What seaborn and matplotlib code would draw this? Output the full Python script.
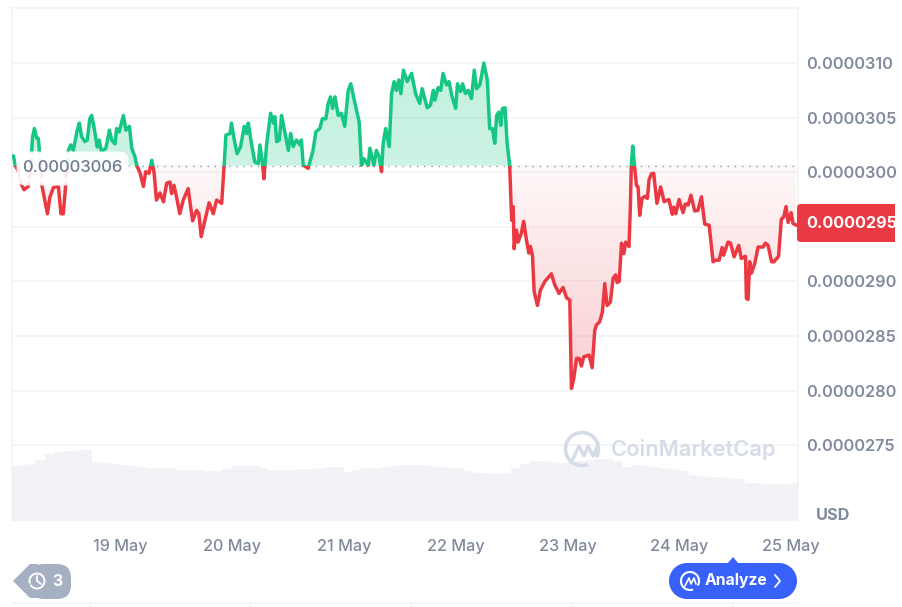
import numpy as np
import seaborn as sns
import matplotlib
matplotlib.use("Agg")
import matplotlib.pyplot as plt
from matplotlib.colors import LinearSegmentedColormap, to_rgba
from matplotlib.patches import Arc, Circle, FancyBboxPatch, Polygon, Rectangle

# ------------------------------
# DATA
# ------------------------------
# hours since the left edge of the chart
hours = [
    0.3, 0.7, 1.4, 2.1, 2.6, 3.5, 4.0, 4.2, 4.4, 4.8, 5.3, 5.65, 6.0, 6.4, 6.9, 7.6, 8.15, 8.9, 9.95, 10.5,
    11.0, 11.5, 12.1, 12.6, 13.15, 14.0, 14.45, 14.95, 15.65, 16.15, 16.7, 17.1, 17.65, 18.3, 18.7, 19.2,
    20.15, 20.9, 21.4, 22.1, 22.45, 23.0, 23.9, 24.45, 25.2, 25.7, 26.4, 26.75, 27.5, 28.2, 28.7, 29.4,
    30.0, 30.5, 31.0, 31.75, 32.5, 33.2, 33.9, 34.25, 34.75, 35.3, 36.0, 36.75, 37.8, 38.75, 39.6, 40.1,
    40.6, 41.4, 42.3, 43.2, 43.9, 45.0, 45.5, 45.9, 46.8, 47.1, 47.7, 48.3, 49.05, 49.85, 50.35, 50.7,
    51.4, 52.1, 52.85, 53.2, 53.8, 54.05, 54.65, 55.5, 56.1, 56.4, 56.8, 57.35, 57.85, 58.6, 59.3, 59.8,
    60.35, 61.05, 61.8, 62.1, 62.5, 63.55, 64.6, 65.2, 66.05, 66.6, 67.35, 67.85, 68.35, 68.8, 69.3, 70.0,
    70.7, 71.4, 72.15, 72.7, 73.6, 74.5, 75.0, 75.5, 76.45, 76.8, 77.65, 78.2, 78.8, 79.3, 79.65, 80.2,
    80.95, 81.45, 82.0, 82.5, 83.0, 83.45, 84.0, 84.8, 85.75, 86.6, 87.5, 88.0, 89.1, 89.8, 90.4, 90.75,
    91.45, 92.0, 92.5, 93.25, 93.75, 94.45, 95.2, 95.6, 96.25, 96.7, 97.3, 97.9, 98.6, 99.2, 99.7, 100.4,
    101.25, 102.0, 102.5, 103.1, 103.6, 104.0, 104.45, 104.9, 105.25, 105.8, 106.25, 106.8, 107.1, 107.25,
    107.55, 107.75, 108.25, 108.6, 109.3, 109.8, 110.4, 110.9, 111.25, 111.7, 112.05, 112.75, 113.4, 114.35,
    115.75, 116.5, 117.4, 118.25, 119.0, 119.7, 120.05, 120.55, 121.15, 121.7, 122.2, 122.7, 123.85, 124.5,
    125.05, 125.4, 126.1, 126.7, 127.2, 127.7, 128.4, 129.0, 129.55, 129.85, 130.3, 130.8, 131.3, 131.7,
    132.4, 132.7, 132.9, 133.2, 133.6, 134.0, 134.35, 134.7, 135.2, 135.8, 136.35, 136.7, 137.2, 137.7,
    138.4, 139.2, 139.95, 140.95, 141.7, 142.0, 142.45, 143.15, 144.0, 144.5, 145.1, 145.7, 146.5, 147.2,
    147.95, 148.65, 149.6, 150.45, 151.0, 151.75, 152.4, 152.7, 153.65, 154.2, 154.95, 155.95, 156.5, 157.4,
    157.6, 157.95, 158.3, 158.65, 159.4, 160.1, 161.2, 161.65, 162.25, 163.0, 163.5, 164.5, 165.1, 165.6,
    166.1, 166.55, 167.2, 167.6, 168.3,
]
# price in units of 1e-7 USD
prices = [
    301.5, 300.65, 300.05, 298.8, 298.4, 298.7, 300.5, 301.7, 303.2, 304.0, 303.1, 303.1, 301.4, 298.8, 297.75, 296.2, 297.75, 298.6, 298.7, 296.2,
    296.2, 298.7, 302.0, 302.5, 302.0, 303.85, 304.5, 303.25, 302.8, 302.95, 304.9, 305.2, 304.0, 302.3, 302.95, 301.9,
    302.2, 303.85, 302.95, 302.6, 304.0, 303.7, 305.2, 303.85, 304.2, 302.2, 301.4, 300.65, 299.9, 298.7, 300.05, 299.9,
    301.1, 299.9, 297.45, 298.1, 297.3, 299.0, 299.1, 298.05, 298.8, 297.75, 296.2, 297.45, 298.5, 295.55, 296.5, 296.2,
    294.1, 295.6, 297.2, 296.2, 297.45, 297.15, 300.5, 303.4, 303.55, 304.5, 302.95, 301.7, 302.35, 304.2, 303.55, 304.5,
    302.6, 300.95, 300.8, 302.5, 300.65, 299.4, 302.6, 305.4, 304.5, 305.1, 302.8, 302.95, 305.2, 303.55, 302.0, 303.55,
    302.35, 302.95, 302.5, 302.95, 300.65, 300.35, 302.0, 303.7, 304.0, 304.9, 304.9, 306.3, 306.9, 305.85, 306.9, 305.2,
    305.4, 304.2, 307.5, 308.1, 306.3, 304.6, 300.65, 301.25, 300.65, 302.2, 300.65, 302.0, 301.4, 300.05, 302.65, 304.0,
    302.35, 307.2, 308.3, 307.5, 308.45, 307.2, 309.35, 308.3, 309.05, 307.2, 306.3, 307.65, 305.9, 306.15, 307.5, 306.6,
    307.75, 307.5, 309.05, 308.0, 308.3, 306.9, 305.85, 308.1, 307.4, 308.1, 307.2, 307.5, 306.75, 309.35, 307.65, 308.0,
    310.0, 308.45, 304.0, 304.0, 302.65, 305.2, 305.5, 304.3, 305.85, 305.9, 302.65, 300.65, 297.0, 295.6,
    296.85, 293.0, 294.7, 293.6, 294.4, 295.5, 293.8, 292.6, 293.2, 292.3, 289.05, 287.8, 289.2, 290.0,
    290.7, 289.65, 288.9, 289.45, 288.5, 288.3, 280.2, 281.1, 282.95, 282.95, 282.25, 283.1, 283.25, 282.1,
    285.5, 286.0, 286.3, 287.2, 289.8, 287.8, 288.1, 290.3, 290.6, 289.9, 290.0, 293.5, 292.55, 293.6,
    293.2, 296.85, 300.65, 302.4, 300.5, 298.8, 298.65, 296.05, 297.6, 297.8, 297.6, 299.3, 299.85, 299.9,
    297.15, 298.65, 297.3, 297.5, 296.15, 296.8, 296.2, 297.5, 296.3, 297.1, 297.0, 297.9, 296.45, 296.5,
    297.75, 295.25, 295.15, 291.8, 291.95, 291.95, 293.1, 292.4, 293.6, 293.5, 292.25, 293.3, 292.1, 292.3,
    288.45, 288.35, 291.8, 290.75, 291.65, 293.15, 293.15, 293.5, 293.3, 291.8, 291.8, 292.3, 295.7, 295.9,
    296.85, 295.4, 296.3, 295.3, 295.15,
]
baseline = 300.6

# volume strip, one value per two hours (arbitrary units)
volume_hours = list(range(0, 170, 2))
volume = [
    55, 56, 57, 61, 67, 69, 70, 71, 71, 59, 58, 57, 56, 55, 54, 53, 53, 53, 51, 51, 51, 50, 50, 52, 55, 55, 55, 53, 51,
    51, 51, 52, 52, 53, 54, 54, 49, 51, 53, 53, 54, 55, 56, 56, 56, 55, 54, 53, 53, 50, 48, 48, 47, 48, 53, 57, 60, 60,
    59, 58, 59, 60, 61, 62, 62, 60, 54, 56, 55, 54, 53, 52, 50, 46, 45, 44, 44, 43, 42, 38, 38, 37, 37, 37, 38,
]

price_ticks = [275, 280, 285, 290, 295, 300, 305, 310]
day_ticks = [23.2, 47.2, 71.2, 95.2, 119.2, 143.2, 167.2]
day_labels = ["19 May", "20 May", "21 May", "22 May", "23 May", "24 May", "25 May"]
last_price_label = "0.0000295"
baseline_label = "0.00003006"

# ------------------------------
# STYLE
# ------------------------------
GREEN = "#16c784"
RED = "#ea3943"
GRID = "#f2f3f5"
TEXT = "#808a9d"
FONT = ["Inter", "DejaVu Sans"]
LABEL_SIZE = 11.7

W, H = 903, 607
sns.set_theme(style="white")
plt.rcParams["font.family"] = FONT

fig = plt.figure(figsize=(W / 100, H / 100), dpi=100)
left, right, top, bottom = 12, 798, 8, 521
ax = fig.add_axes([left / W, 1 - bottom / H, (right - left) / W, (bottom - top) / H])

xlim = (0, 168.67)
ylim = (268.06, 315.04)


def gradient(base_color, a_top, a_bottom, y_low, y_high):
    # vertical alpha gradient clipped to the area between price and baseline
    rgb = to_rgba(base_color)[:3]
    cmap = LinearSegmentedColormap.from_list("g", [(*rgb, a_top), (*rgb, a_bottom)])
    im = ax.imshow(np.linspace(0, 1, 256).reshape(-1, 1), cmap=cmap, aspect="auto",
                   extent=(xlim[0], xlim[1], y_low, y_high), origin="upper", zorder=1)
    return im


ax.set_yticks(price_ticks)
ax.yaxis.grid(True, color=GRID, lw=1.2)
ax.xaxis.grid(False)
ax.set_axisbelow(True)

area = ax.fill_between(hours, prices, baseline, color="none", lw=0)
area_path = area.get_paths()[0]
green_im = gradient(GREEN, 0.26, 0.22, baseline, 310.5)
red_im = gradient(RED, 0.035, 0.26, 280, baseline)
green_im.set_clip_path(area_path, ax.transData)
red_im.set_clip_path(area_path, ax.transData)

# price line, one colour above the baseline and one below
for color, y0, y1 in [(GREEN, baseline, ylim[1]), (RED, ylim[0], baseline)]:
    clip = Rectangle((xlim[0], y0), xlim[1] - xlim[0], y1 - y0, transform=ax.transData)
    n_before = len(ax.lines)
    sns.lineplot(x=hours, y=prices, color=color, lw=2.5, estimator=None, sort=False, ax=ax, zorder=3)
    for line in ax.lines[n_before:]:
        line.set_clip_path(clip)
        line.set_solid_joinstyle("round")

ax.axhline(baseline, color="#8f98a8", lw=1, ls=(0, (1, 4.2)), zorder=2)

ax.set_xlim(*xlim)
ax.set_ylim(*ylim)
ax.set_xticks(day_ticks)
ax.set_xticklabels(day_labels, fontsize=LABEL_SIZE, color=TEXT, fontweight="medium")
ax.tick_params(axis="x", length=0, pad=13)
for side in ax.spines:
    ax.spines[side].set_color(GRID)
    ax.spines[side].set_linewidth(1.2)
ax.spines["bottom"].set_visible(False)

# volume strip on its own scale
vax = ax.twinx()
sns.histplot(x=volume_hours, weights=volume, binwidth=2, binrange=(-1, 169), color="#f0f2f6",
             edgecolor="#f3f4f8", linewidth=0.4, alpha=1, ax=vax)
vax.set_ylim(0, bottom - top)
vax.set_xlim(*xlim)
vax.set_yticks([])
vax.set_ylabel("")
vax.patch.set_visible(False)
for side in vax.spines:
    vax.spines[side].set_visible(False)

# twinx sends the price ticks to the left, so put them right afterwards
# the 295 tick has no label of its own: the last price badge sits on it
ax.yaxis.tick_right()
ax.set_yticks(price_ticks)
ax.set_yticklabels(["" if t == 295 else f"{t * 1e-7:.7f}" for t in price_ticks],
                   fontsize=LABEL_SIZE, color=TEXT, fontweight="semibold")
ax.tick_params(axis="y", length=0, pad=6)

# ------------------------------
# OVERLAY IN PIXEL COORDINATES
# ------------------------------
ov = fig.add_axes([0, 0, 1, 1], facecolor="none")
ov.set_xlim(0, W)
ov.set_ylim(H, 0)
ov.axis("off")

# baseline label
ov.add_patch(FancyBboxPatch((20, 155), 105, 27, boxstyle="round,pad=0,rounding_size=5",
                            fc="white", ec="white", alpha=0.9, lw=5))
ov.text(22, 168, baseline_label, fontsize=12, color="#6f7a8f", va="center", ha="left", fontweight="medium")

# last price badge, square on the right edge
ov.add_patch(FancyBboxPatch((797, 204), 98, 38, boxstyle="round,pad=0,rounding_size=4", fc=RED, ec="none"))
ov.add_patch(Rectangle((880, 204), 15, 38, fc=RED, ec="none"))
ov.text(806.5, 224, last_price_label, fontsize=LABEL_SIZE, color="white", va="center", ha="left", fontweight="bold")

ov.text(816, 515, "USD", fontsize=LABEL_SIZE, color=TEXT, va="center", ha="left", fontweight="bold")

# watermark (angles run clockwise on screen because y is flipped)
WM = "#d6dce7"
ov.add_patch(Arc((582, 449), 33, 33, theta1=70, theta2=30, color=WM, lw=2.6))
ov.plot([573, 579, 584, 588, 593, 597], [459, 446, 456, 446, 456, 447], color=WM, lw=2.4, solid_joinstyle="round")
ov.text(611, 450, "CoinMarketCap", fontsize=15.75, color=WM, va="center", ha="left", fontweight="semibold")

# history badge
BADGE = "#a6b0c3"
ov.add_patch(FancyBboxPatch((30, 564), 41, 35, boxstyle="round,pad=0,rounding_size=14", fc=BADGE, ec="none"))
ov.add_patch(Polygon([(13, 581), (30, 564), (38, 564), (38, 598), (30, 598)], fc=BADGE, ec="none"))
ov.add_patch(Arc((37, 581), 15, 15, theta1=-200, theta2=150, color="white", lw=1.4))
ov.plot([37, 37, 41], [576, 581, 584], color="white", lw=1.3)
ov.text(57.5, 581, "3", fontsize=11.5, color="white", va="center", ha="center", fontweight="bold")

# analyze button
BLUE = "#3861fb"
ov.add_patch(Rectangle((687, 563), 92, 36, fc=BLUE, ec="none"))
ov.add_patch(Circle((687, 581), 18, fc=BLUE, ec="none"))
ov.add_patch(Circle((779, 581), 18, fc=BLUE, ec="none"))
ov.add_patch(Polygon([(727, 564), (733, 557), (739, 564)], fc=BLUE, ec="none"))
ov.add_patch(Arc((690, 581), 18, 18, theta1=70, theta2=30, color="white", lw=1.5))
ov.plot([685, 689, 691, 694, 696], [586, 578, 584, 578, 584], color="white", lw=1.2)
ov.text(705, 581, "Analyze", fontsize=11.3, color="white", va="center", ha="left", fontweight="bold")
ov.plot([775, 780, 775], [575, 581, 587], color="white", lw=1.3)

# strip of the next panel at the very bottom
ov.plot([12, 798], [603, 603], color=GRID, lw=1.2)
for x in [90, 250, 411, 572, 733]:
    ov.plot([x, x], [603, 607], color=GRID, lw=1.2)

fig.savefig("out.png", dpi=100)
